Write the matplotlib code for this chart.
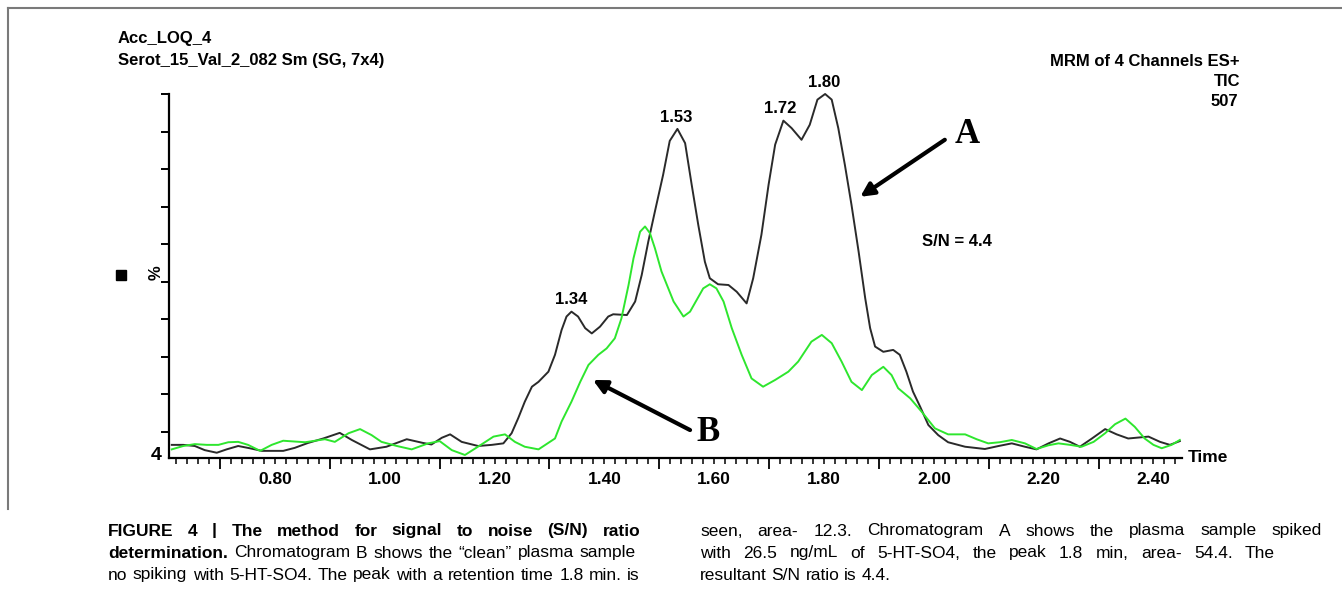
import numpy as np
import matplotlib
matplotlib.use("Agg")
import matplotlib.pyplot as plt
from matplotlib.ticker import MultipleLocator, FixedLocator, NullFormatter, FuncFormatter
from matplotlib.lines import Line2D
from matplotlib.patches import Rectangle

plt.rcParams['font.family'] = ['Liberation Sans', 'DejaVu Sans']

# chromatogram A (spiked, black)
time_a = [0.612, 0.633, 0.654, 0.672, 0.694, 0.712, 0.733, 0.754, 0.776, 0.815,
          0.836, 0.860, 0.888, 0.918, 0.940, 0.973, 1.003, 1.040, 1.070, 1.085,
          1.104, 1.119, 1.140, 1.170, 1.195, 1.216, 1.231, 1.243, 1.255, 1.268,
          1.280, 1.298, 1.310, 1.322, 1.331, 1.340, 1.352, 1.365, 1.377, 1.392,
          1.407, 1.416, 1.441, 1.456, 1.468, 1.480, 1.492, 1.507, 1.519, 1.533,
          1.547, 1.559, 1.571, 1.583, 1.592, 1.607, 1.626, 1.641, 1.659, 1.671,
          1.686, 1.699, 1.711, 1.726, 1.741, 1.759, 1.774, 1.788, 1.802, 1.814,
          1.826, 1.838, 1.850, 1.863, 1.875, 1.884, 1.893, 1.908, 1.926, 1.938,
          1.950, 1.962, 1.975, 1.990, 2.008, 2.026, 2.057, 2.093, 2.118, 2.142,
          2.166, 2.187, 2.209, 2.230, 2.248, 2.266, 2.288, 2.312, 2.333, 2.354,
          2.391, 2.412, 2.430, 2.448]
intensity_a = [6.5, 6.5, 6.2, 5.1, 4.4, 5.3, 6.2, 5.6, 4.9, 4.9,
               5.7, 7.0, 8.2, 9.7, 7.8, 5.3, 6.0, 8.0, 7.0, 6.6,
               8.4, 9.3, 7.3, 6.2, 6.5, 6.9, 9.6, 13.6, 18.0, 22.0,
               23.3, 26.0, 30.5, 37.1, 40.7, 42.0, 40.7, 37.6, 36.2, 38.0,
               40.7, 41.3, 41.1, 44.7, 51.8, 60.7, 68.7, 78.5, 87.5, 90.7,
               86.9, 75.8, 65.1, 55.3, 50.9, 49.3, 49.1, 47.3, 44.2, 50.9,
               62.5, 75.8, 86.5, 92.9, 90.9, 87.8, 91.8, 98.5, 100.0, 98.5,
               90.9, 81.1, 70.5, 58.0, 45.6, 37.6, 32.7, 31.3, 31.8, 30.5,
               26.0, 20.7, 16.7, 11.8, 9.1, 7.2, 6.0, 5.4, 6.2, 6.9,
               6.0, 5.3, 6.9, 8.2, 7.3, 6.0, 8.2, 10.7, 9.3, 8.2,
               8.7, 7.3, 6.5, 7.5]

# chromatogram B (clean plasma, green)
time_b = [0.612, 0.633, 0.654, 0.676, 0.697, 0.715, 0.733, 0.751, 0.773, 0.794,
          0.815, 0.855, 0.891, 0.909, 0.934, 0.955, 0.976, 0.994, 1.022, 1.049,
          1.079, 1.100, 1.122, 1.146, 1.176, 1.198, 1.219, 1.237, 1.255, 1.280,
          1.310, 1.322, 1.340, 1.356, 1.371, 1.389, 1.404, 1.419, 1.431, 1.444,
          1.453, 1.465, 1.474, 1.483, 1.492, 1.504, 1.526, 1.544, 1.556, 1.568,
          1.580, 1.592, 1.604, 1.617, 1.632, 1.650, 1.668, 1.689, 1.711, 1.735,
          1.753, 1.777, 1.796, 1.814, 1.832, 1.850, 1.869, 1.887, 1.908, 1.923,
          1.935, 1.957, 1.978, 2.002, 2.026, 2.057, 2.078, 2.099, 2.120, 2.142,
          2.166, 2.187, 2.209, 2.227, 2.248, 2.269, 2.291, 2.312, 2.330, 2.349,
          2.366, 2.384, 2.400, 2.415, 2.433, 2.448]
intensity_b = [5.3, 6.2, 6.7, 6.5, 6.5, 7.2, 7.3, 6.5, 4.9, 6.5,
               7.6, 7.2, 8.0, 7.3, 9.6, 10.7, 9.1, 7.3, 6.2, 5.3,
               6.9, 7.5, 5.1, 3.8, 6.6, 8.7, 9.3, 7.3, 6.0, 5.3,
               8.2, 12.7, 18.0, 23.3, 27.8, 30.5, 32.2, 34.9, 40.2, 49.1,
               56.2, 63.3, 64.7, 62.9, 58.9, 52.7, 44.7, 40.7, 42.0, 45.1,
               48.2, 49.3, 48.2, 44.7, 37.6, 30.5, 24.2, 22.0, 23.8, 26.0,
               28.7, 34.0, 35.8, 33.6, 28.7, 23.3, 21.1, 25.1, 27.3, 25.1,
               21.6, 18.9, 15.3, 10.9, 9.3, 9.3, 8.0, 6.9, 7.2, 7.8,
               6.9, 5.4, 6.4, 6.9, 6.5, 6.0, 7.3, 9.6, 12.0, 13.5,
               11.3, 8.2, 6.5, 5.6, 6.5, 7.8]

peak_times = [1.34, 1.53, 1.72, 1.80]
peak_heights = [42.0, 90.7, 92.9, 100.0]
peak_labels = ["1.34", "1.53", "1.72", "1.80"]

W, H = 1342, 598
fig = plt.figure(figsize=(W / 100, H / 100), dpi=100)

def fx(px):
    return px / W

def fy(py):
    return 1 - py / H

ax = fig.add_axes([fx(169), fy(458), fx(1182) - fx(169), fy(94) - fy(458)])
ax.plot(time_a, intensity_a, color='#2a2a2a', lw=1.4, clip_on=False,
        solid_joinstyle='round')
ax.plot(time_b, intensity_b, color='#2ee62e', lw=1.4, clip_on=False,
        solid_joinstyle='round')
ax.set_xlim(0.607, 2.452)
ax.set_ylim(3, 100)

for s in ['top', 'right']:
    ax.spines[s].set_visible(False)
for s in ['left', 'bottom']:
    ax.spines[s].set_linewidth(1.6)

# y axis: ticks only
ax.yaxis.set_major_locator(FixedLocator(np.arange(10, 101, 10)))
ax.yaxis.set_major_formatter(NullFormatter())
ax.tick_params(axis='y', direction='out', length=6, width=1.4)

# x axis: long ticks at odd tenths, short ticks every 0.02, labels at even tenths
ax.xaxis.set_major_locator(FixedLocator(np.arange(0.7, 2.45, 0.2)))
ax.xaxis.set_major_formatter(NullFormatter())
ax.xaxis.set_minor_locator(MultipleLocator(0.02))
label_at = [0.8, 1.0, 1.2, 1.4, 1.6, 1.8, 2.0, 2.2, 2.4]
def minor_fmt(v, pos):
    for t in label_at:
        if abs(v - t) < 1e-6:
            return f"{t:.2f}"
    return ""
ax.xaxis.set_minor_formatter(FuncFormatter(minor_fmt))
ax.tick_params(axis='x', which='major', direction='out', length=8, width=1.3)
ax.tick_params(axis='x', which='minor', direction='out', length=4, width=1.1,
               labelsize=12.5, pad=6)
for lab in ax.get_xticklabels(minor=True):
    lab.set_fontweight('bold')

for t, h, lab in zip(peak_times, peak_heights, peak_labels):
    ax.annotate(lab, xy=(t, h), xytext=(0, 3), textcoords='offset points',
                ha='center', va='bottom', fontsize=12, fontweight='bold',
                annotation_clip=False)

ax.text(1.978, 60.6, "S/N = 4.4", fontsize=12, fontweight='bold',
        ha='left', va='center')

ax.annotate("", xy=(1.866, 72.6), xytext=(2.020, 87.8),
            arrowprops=dict(arrowstyle='-|>', color='black', lw=3,
                            mutation_scale=20, shrinkA=0, shrinkB=0))
ax.text(2.060, 89.1, "A", fontsize=25, fontweight='bold', ha='center', va='center',
        family='Liberation Serif')
ax.annotate("", xy=(1.379, 23.8), xytext=(1.556, 10.45),
            arrowprops=dict(arrowstyle='-|>', color='black', lw=3,
                            mutation_scale=20, shrinkA=0, shrinkB=0))
ax.text(1.589, 9.9, "B", fontsize=25, fontweight='bold', ha='center', va='center',
        family='Liberation Serif')

# header texts
fig.text(fx(118), fy(38), "Acc_LOQ_4", fontsize=12, fontweight='bold', va='center')
fig.text(fx(118), fy(60), "Serot_15_Val_2_082 Sm (SG, 7x4)", fontsize=12,
         fontweight='bold', va='center')
fig.text(fx(1240), fy(62), "MRM of 4 Channels ES+", fontsize=12, fontweight='bold',
         va='center', ha='right')
fig.text(fx(1240), fy(82), "TIC", fontsize=12, fontweight='bold', va='center', ha='right')
fig.text(fx(1238), fy(102), "507", fontsize=12, fontweight='bold', va='center', ha='right')
fig.text(fx(156), fy(273), "%", fontsize=12, fontweight='bold', rotation=90,
         va='center', ha='center')
fig.text(fx(156), fy(455), "4", fontsize=14, fontweight='bold', va='center', ha='center')
fig.text(fx(1188), fy(457), "Time", fontsize=12.5, fontweight='bold', va='center', ha='left')
fig.patches.append(Rectangle((fx(116), fy(280)), fx(10), 10 / H, transform=fig.transFigure,
                             color='black'))

# panel frame (top and left)
fig.lines.append(Line2D([fx(8), 1], [fy(8), fy(8)], transform=fig.transFigure,
                        color='#7a7a7a', lw=1.5))
fig.lines.append(Line2D([fx(8), fx(8)], [fy(8), fy(509)], transform=fig.transFigure,
                        color='#7a7a7a', lw=1.5))

# caption, justified lines
cap_family = ['Liberation Sans Narrow', 'Liberation Sans', 'DejaVu Sans']
cap_size = 12.5
renderer = fig.canvas.get_renderer()

def caption_line(words, x0, x1, y, justify=True):
    arts = []
    for w, bold in words:
        arts.append(fig.text(0, fy(y), w, fontsize=cap_size, family=cap_family,
                             fontweight='bold' if bold else 'normal', va='center'))
    widths = [a.get_window_extent(renderer).width for a in arts]
    space = fig.text(0, 0, "a a", fontsize=cap_size, family=cap_family)
    aa = fig.text(0, 0, "aa", fontsize=cap_size, family=cap_family)
    sp = space.get_window_extent(renderer).width - aa.get_window_extent(renderer).width
    space.remove()
    aa.remove()
    if justify and len(arts) > 1:
        sp = (x1 - x0 - sum(widths)) / (len(arts) - 1)
    x = x0
    for a, w in zip(arts, widths):
        a.set_x(fx(x))
        x += w + sp

def split(text, bold):
    return [(w, bold) for w in text.split()]

caption_line(split("FIGURE 4 | The method for signal to noise (S/N) ratio", True), 108, 640, 531)
caption_line(split("determination.", True) +
             split("Chromatogram B shows the \u201cclean\u201d plasma sample", False), 108, 636, 553)
caption_line(split("no spiking with 5-HT-SO4. The peak with a retention time 1.8\u2009min. is", False),
             108, 640, 575)
caption_line(split("seen, area- 12.3. Chromatogram A shows the plasma sample spiked", False),
             700, 1322, 531)
caption_line(split("with 26.5\u2009ng/mL of 5-HT-SO4, the peak 1.8\u2009min, area- 54.4. The", False),
             700, 1275, 553)
caption_line(split("resultant S/N ratio is 4.4.", False), 700, 1322, 575, justify=False)

fig.savefig("out.png", dpi=100)
